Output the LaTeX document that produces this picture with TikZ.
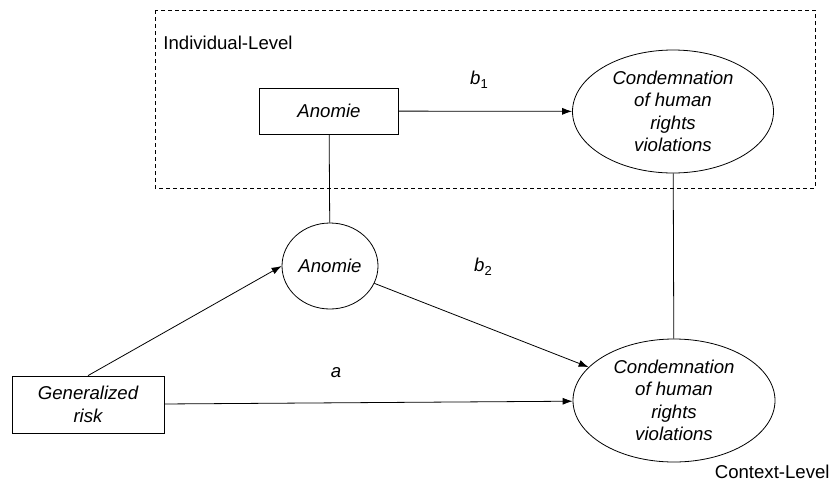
\documentclass[tikz,border=0pt]{standalone}
\usepackage{fontspec}
\setmainfont{Liberation Sans}
\usetikzlibrary{shapes.geometric,arrows.meta}

\tikzset{
	lbl/.style = {inner sep = 0pt, font = \fontsize{18.6}{22.5}\selectfont},
	varbox/.style = {draw, align = center, inner sep = 2pt, font = \fontsize{18.6}{22.5}\selectfont\itshape},
	varoval/.style = {varbox, ellipse}
}
\newcommand{\sbs}[1]{\raisebox{-0.4ex}{\fontsize{13}{13}\selectfont #1}}

\begin{document}
\begin{tikzpicture}[x = 1pt, y = -1pt, line width = 0.8pt, >={Latex[length=10pt, width=7pt]}]
		\useasboundingbox (0,0) rectangle (832,499);
		% individual level
		\draw[line width = 0.7pt, dash pattern = on 4pt off 3pt] (155,10) rectangle (815,188);
		\node[lbl, anchor = west] (ind) at (163,43) {Individual-Level};
		\node[varbox, minimum width = 139, minimum height = 46] (anom1) at (329,111) {Anomie};
		\node[varoval, minimum width = 201, minimum height = 123] (cond1) at (673,111.5) {Condemnation\\of human\\rights\\violations};
		\node[lbl] (b1) at (479,80) {\textit{b}\sbs{1}};
		% context level
		\node[varoval, minimum width = 96, minimum height = 86] (anom2) at (330,266) {Anomie};
		\node[varbox, minimum width = 152, minimum height = 57] (risk) at (88,404.5) {Generalized\\risk};
		\node[varoval, minimum width = 202, minimum height = 123] (cond2) at (674,400.5) {Condemnation\\of human\\rights\\violations};
		\node[lbl] (b2) at (483,267) {\textit{b}\sbs{2}};
		\node[lbl] (a) at (336,373) {\textit{a}};
		\node[lbl, anchor = east] (ctx) at (830,472) {Context-Level};
		% paths
		\draw[->] (anom1) -- (cond1);
		\draw (anom1) -- (anom2);
		\draw (cond1) -- (cond2);
		\draw[->] (risk.north) -- (anom2.west);
		\draw[->] (anom2) -- (cond2);
		\draw[->] (risk) -- (cond2);
	\end{tikzpicture}
\end{document}
